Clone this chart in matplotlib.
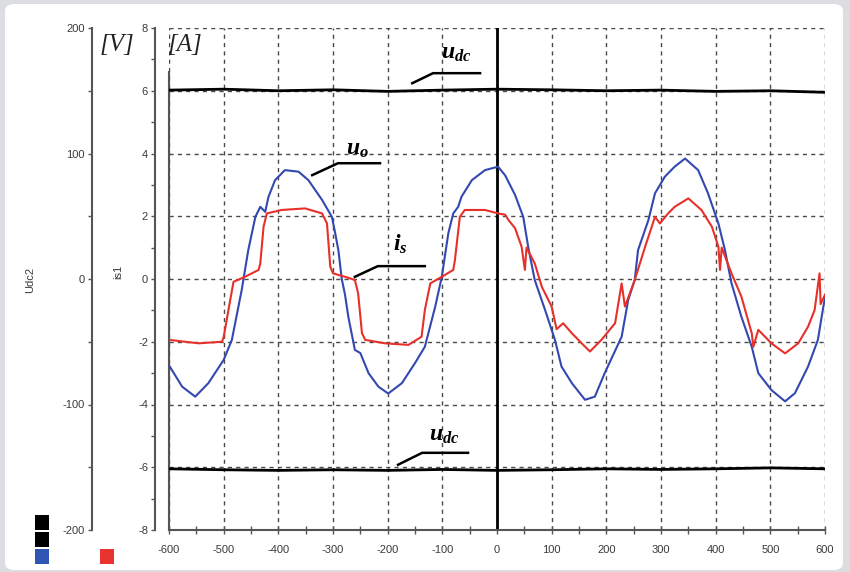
import matplotlib
matplotlib.use("Agg")
import matplotlib.pyplot as plt
from matplotlib.patches import FancyBboxPatch, Rectangle
from matplotlib.ticker import MultipleLocator

plt.rcParams["font.family"] = ["Liberation Sans", "DejaVu Sans"]
plt.rcParams["axes.unicode_minus"] = False
plt.rcParams["mathtext.fontset"] = "custom"
plt.rcParams["mathtext.it"] = "Liberation Serif:italic:bold"
plt.rcParams["mathtext.rm"] = "Liberation Serif:bold"

# time axis [us] and tick labels
x_ticks = [-600, -500, -400, -300, -200, -100, 0, 100, 200, 300, 400, 500, 600]
x_labels = ["-600", "-500", "-400", "-300", "-200", "-100", "0", "100", "200", "300", "400", "500", "600"]

# dc-link voltages (drawn on the [A] scale, as in the scope screen)
udc_x = [-600, -500, -400, -300, -200, -100, 0, 100, 200, 300, 400, 500, 600]
udc_top = [6.02, 6.05, 6.0, 6.03, 5.98, 6.02, 6.05, 6.03, 6.0, 6.02, 5.98, 6.0, 5.95]
udc_bot = [-6.05, -6.08, -6.1, -6.08, -6.1, -6.07, -6.1, -6.08, -6.05, -6.07, -6.05, -6.02, -6.05]

# output voltage u_o (blue)
uo_x = [-600, -576, -552, -528, -500, -485, -467, -455, -442, -433, -424, -418, -406, -388,
        -363, -345, -320, -302, -296, -290, -284, -278, -272, -260, -250, -235, -217, -199,
        -174, -150, -132, -113, -101, -89, -80, -71, -65, -46, -22, 2, 15, 33, 48, 57, 69,
        88, 106, 118, 137, 161, 179, 197, 228, 240, 252, 258, 277, 289, 307, 325, 344, 368,
        386, 405, 417, 429, 447, 466, 478, 502, 527, 545, 569, 587, 597, 600]
uo_y = [-2.75, -3.43, -3.75, -3.32, -2.58, -1.94, -0.35, 0.92, 1.98, 2.30, 2.14, 2.62, 3.15, 3.47,
        3.42, 3.15, 2.52, 1.98, 1.46, 0.9, 0.0, -0.5, -1.2, -2.26, -2.36, -3.0, -3.43, -3.65,
        -3.32, -2.68, -2.16, -0.88, 0.07, 1.46, 2.09, 2.30, 2.62, 3.15, 3.47, 3.58, 3.3, 2.68, 1.98, 1.03, -0.03,
        -0.99, -1.94, -2.79, -3.32, -3.85, -3.75, -3.0, -1.84, -0.67, -0.03, 0.92, 1.88, 2.73, 3.26, 3.58, 3.84, 3.47,
        2.73, 1.77, 0.92, -0.14, -1.2, -2.16, -3.0, -3.54, -3.9, -3.64, -2.79, -1.94, -0.88, -0.6]

# current i_s (red)
is_x = [-600, -546, -503, -500, -488, -482, -461, -436, -433, -427, -421, -394, -351, -320,
        -311, -305, -300, -278, -260, -254, -247, -241, -205, -162, -138, -132, -122, -101,
        -80, -77, -68, -59, -22, 2, 15, 21, 33, 45, 51, 54, 69, 82, 100, 109, 121, 137, 155,
        170, 191, 216, 228, 234, 252, 271, 289, 298, 313, 325, 350, 374, 393, 405, 408, 411,
        429, 447, 466, 469, 478, 502, 527, 551, 569, 581, 590, 592, 600]
is_y = [-1.94, -2.05, -2.0, -1.85, -0.67, -0.09, 0.07, 0.29, 0.5, 1.67, 2.09, 2.2, 2.25, 2.09,
        1.77, 0.39, 0.18, 0.07, -0.03, -0.46, -1.73, -1.94, -2.05, -2.1, -1.84, -0.99, -0.14, 0.07,
        0.29, 0.6, 1.98, 2.2, 2.2, 2.09, 2.05, 1.88, 1.62, 1.03, 0.29, 1.0, 0.5, -0.25, -0.88, -1.6, -1.41, -1.73, -2.05,
        -2.31, -1.94, -1.41, -0.14, -0.88, -0.03, 1.03, 1.98, 1.77, 2.09, 2.30, 2.57, 2.2, 1.67, 1.03, 0.29, 1.0,
        0.18, -0.56, -1.73, -2.16, -1.62, -2.05, -2.37, -2.05, -1.52, -0.99, 0.18, -0.8, -0.5]

fig = plt.figure(figsize=(8.5, 5.72), dpi=100)
fig.patch.set_facecolor("#dcdde0")
fig.add_artist(FancyBboxPatch((5 / 850, 2 / 572), 838 / 850, 566 / 572,
                              boxstyle="round,pad=0,rounding_size=0.012",
                              transform=fig.transFigure, fc="white", ec="none",
                              zorder=-10))

W, H = 850, 572
bottom = 1 - 530 / H
height = (530 - 28) / H
axis_col = "#555555"
lab_col = "#3a3a3a"

# main plot area
ax = fig.add_axes([169 / W, bottom, (825 - 169) / W, height])
ax.set_facecolor("none")
ax.set_xlim(-600, 600)
ax.set_ylim(-8, 8)
ax.set_xticks(x_ticks)
ax.set_xticklabels(x_labels)
ax.xaxis.set_minor_locator(MultipleLocator(50))
ax.set_yticks([-8, -6, -4, -2, 0, 2, 4, 6, 8])
ax.tick_params(axis="y", left=False, labelleft=False)
ax.tick_params(axis="x", which="both", direction="inout", length=6, width=1,
               color=axis_col, labelsize=8, labelcolor=lab_col, pad=8)
for s in ["top", "right"]:
    ax.spines[s].set_visible(False)
ax.spines["bottom"].set_color(axis_col)
ax.spines["bottom"].set_linewidth(1.5)
ax.spines["left"].set_color(axis_col)
ax.spines["left"].set_linewidth(1.5)
ax.spines["left"].set_bounds(-8, 6.6)
ax.grid(True, which="major", color="#4a4a4a", linestyle=(0, (3, 3)), linewidth=1)
ax.set_axisbelow(True)

ax.axvline(0, color="black", lw=2, zorder=2)
ax.plot(udc_x, udc_top, color="black", lw=2, zorder=3)
ax.plot(udc_x, udc_bot, color="black", lw=2, zorder=3)
ax.plot(uo_x, uo_y, color="#3348b0", lw=1.5, zorder=4)
ax.plot(is_x, is_y, color="#e8302a", lw=1.5, zorder=5)

# labels with leader lines
lead = dict(color="black", lw=1.8, zorder=6)
ax.plot([-155, -117, -31], [6.24, 6.56, 6.56], **lead)
ax.text(-75, 7.2, r"$u_{dc}$", fontsize=17, ha="center", va="center")
ax.plot([-181, -137, -53], [-5.92, -5.54, -5.54], **lead)
ax.text(-97, -4.97, r"$u_{dc}$", fontsize=17, ha="center", va="center")
ax.plot([-338, -291, -214], [3.31, 3.69, 3.69], **lead)
ax.text(-256, 4.15, r"$u_o$", fontsize=17, ha="center", va="center")
ax.plot([-260, -218, -132], [0.07, 0.41, 0.41], **lead)
ax.text(-177, 1.1, r"$i_s$", fontsize=17, ha="center", va="center")

# current scale (is1)
ax_a = fig.add_axes([155 / W, bottom, 1e-4, height])
ax_a.set_ylim(-8, 8)
ax_a.set_yticks([-8, -6, -4, -2, 0, 2, 4, 6, 8])
ax_a.yaxis.set_minor_locator(MultipleLocator(1))
# voltage scale (Udc2)
ax_v = fig.add_axes([92 / W, bottom, 1e-4, height])
ax_v.set_ylim(-200, 200)
ax_v.set_yticks([-200, -100, 0, 100, 200])
ax_v.yaxis.set_minor_locator(MultipleLocator(50))
for a in (ax_a, ax_v):
    a.patch.set_visible(False)
    a.set_xticks([])
    for s in ["top", "right", "bottom"]:
        a.spines[s].set_visible(False)
    a.spines["left"].set_color(axis_col)
    a.spines["left"].set_linewidth(1.5)
    a.tick_params(axis="y", which="both", direction="out", length=3, width=1,
                  color=axis_col, labelsize=8, labelcolor=lab_col, pad=2)

fig.text(30 / W, 1 - 280 / H, "Udc2", rotation=90, fontsize=8, color=lab_col,
         ha="center", va="center")
fig.text(118 / W, 1 - 272 / H, "is1", rotation=90, fontsize=8, color=lab_col,
         ha="center", va="center")
fig.text(117 / W, 1 - 45 / H, "[V]", fontsize=18, family="Liberation Serif",
         style="italic", color="#222222", ha="center", va="center")
fig.text(185 / W, 1 - 45 / H, "[A]", fontsize=18, family="Liberation Serif",
         style="italic", color="#222222", ha="center", va="center")

# channel colour markers
for (px, py, c) in [(35, 515, "black"), (35, 532, "black"), (35, 549, "#2f55b5"), (100, 549, "#e8332e")]:
    fig.add_artist(Rectangle((px / W, 1 - (py + 15) / H), 14 / W, 15 / H,
                             transform=fig.transFigure, fc=c, ec="none"))

fig.savefig("out.png", dpi=100, facecolor=fig.get_facecolor())
